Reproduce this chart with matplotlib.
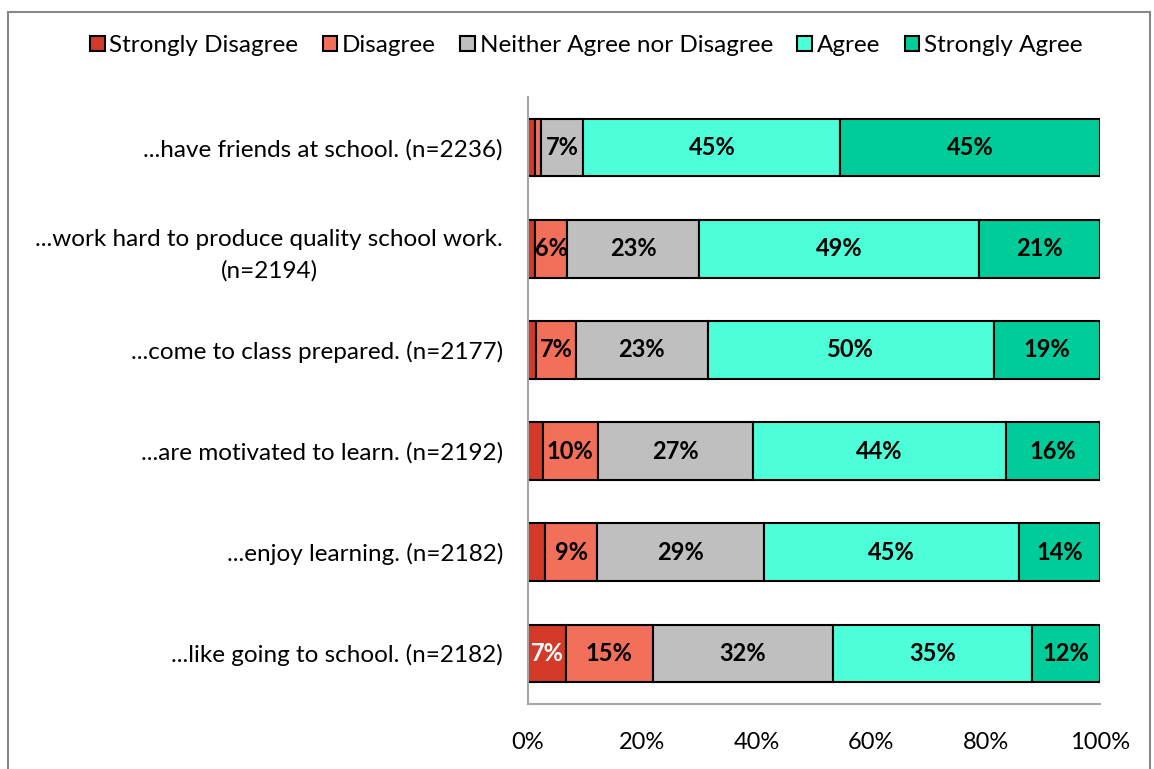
import numpy as np
import matplotlib.pyplot as plt
from matplotlib.patches import Rectangle

plt.rcParams['font.family'] = ['Lato', 'DejaVu Sans']

# data
categories = [
    "...have friends at school. (n=2236)",
    "...work hard to produce quality school work.\n(n=2194)",
    "...come to class prepared. (n=2177)",
    "...are motivated to learn. (n=2192)",
    "...enjoy learning. (n=2182)",
    "...like going to school. (n=2182)",
]
series = ["Strongly Disagree", "Disagree", "Neither Agree nor Disagree", "Agree", "Strongly Agree"]
strongly_disagree = [1.2, 1.3, 1.4, 2.6, 3.0, 6.6]
disagree = [1.1, 5.6, 7.0, 9.6, 9.1, 15.2]
neither = [7.4, 23.0, 23.0, 27.1, 29.2, 31.6]
agree = [44.9, 49.0, 50.0, 44.2, 44.6, 34.8]
strongly_agree = [45.4, 21.1, 18.6, 16.5, 14.1, 11.8]
colors = ["#D33A28", "#F2705A", "#BFBFBF", "#4DFFD9", "#00CC99"]

values = [strongly_disagree, disagree, neither, agree, strongly_agree]

fig = plt.figure(figsize=(11.54, 7.69), dpi=100)
ax = fig.add_axes([0.4575, 0.0845, 0.4957, 0.7894])

y = np.arange(len(categories))
left = np.zeros(len(categories))
for s, vals, c in zip(series, values, colors):
    vals = np.array(vals)
    ax.barh(y, vals, left=left, height=0.57, color=c,
            edgecolor="black", linewidth=1.5, label=s)
    for yi, l, v in zip(y, left, vals):
        if v >= 5:
            tc = "white" if s == "Strongly Disagree" else "black"
            ax.text(l + v / 2, yi, f"{v:.0f}%", ha="center", va="center",
                    fontsize=17, fontweight="bold", color=tc)
    left += vals

ax.set_xlim(0, 100)
ax.set_ylim(len(categories) - 0.5, -0.5)
ax.set_yticks(y)
ax.set_yticklabels(categories, fontsize=17.5, multialignment="center", linespacing=1.55)
ax.set_xticks(np.arange(0, 101, 20))
ax.set_xticklabels([f"{t}%" for t in range(0, 101, 20)], fontsize=17)
ax.tick_params(axis="y", length=0, pad=18)
ax.tick_params(axis="x", length=0, pad=20)

for sp in ["top", "right"]:
    ax.spines[sp].set_visible(False)
for sp in ["left", "bottom"]:
    ax.spines[sp].set_color("#A6A6A6")
    ax.spines[sp].set_linewidth(1.5)

fig.legend(loc="center", bbox_to_anchor=(0.508, 0.941), ncol=5, frameon=False,
           fontsize=17.5, handlelength=0.6, handleheight=0.6, handletextpad=0.2,
           columnspacing=1.0)

# outer frame
fig.patches.append(Rectangle((8 / 1154, -0.02), 1142 / 1154, 1.02 - 12 / 769,
                             transform=fig.transFigure, fill=False,
                             edgecolor="#888888", linewidth=1.5))

fig.savefig("out.png", dpi=100)
